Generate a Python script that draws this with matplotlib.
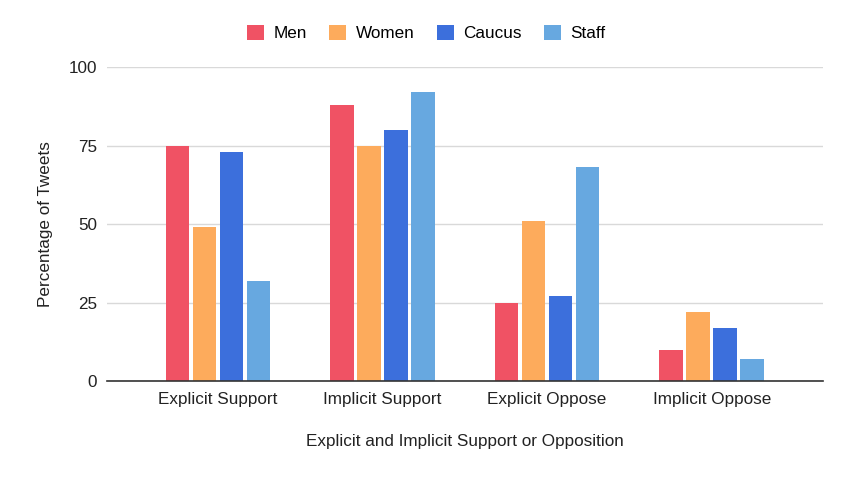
import matplotlib
matplotlib.use('Agg')
import matplotlib.pyplot as plt
import numpy as np

plt.rcParams['font.family'] = ['Liberation Sans', 'DejaVu Sans']

categories = ['Explicit Support', 'Implicit Support', 'Explicit Oppose', 'Implicit Oppose']
series_names = ['Men', 'Women', 'Caucus', 'Staff']
men = [75, 88, 25, 10]
women = [49, 75, 51, 22]
caucus = [73, 80, 27, 17]
staff = [32, 92, 68, 7]
colors = ['#f05264', '#fdab5c', '#3c6fdc', '#67a8e0']

fig = plt.figure(figsize=(8.49, 4.82), dpi=100)
ax = fig.add_axes([0.126, 0.2095, 0.843, 0.6515])

x = np.arange(len(categories))
step = 0.164
width = 0.143
for i, (vals, name) in enumerate(zip([men, women, caucus, staff], series_names)):
    ax.bar(x + (i - 1.5) * step, vals, width, color=colors[i], label=name, zorder=3)

ax.set_xlim(-0.674, 3.674)
ax.set_ylim(0, 100)
ax.set_yticks([0, 25, 50, 75, 100])
ax.grid(axis='y', color='#d9d9d9', linewidth=1, zorder=0)
ax.set_xticks(x)
ax.set_xticklabels(categories)
ax.tick_params(axis='both', length=0, labelsize=12.3, colors='#222222')
ax.tick_params(axis='x', pad=8)
ax.tick_params(axis='y', pad=7)
for s in ['top', 'right', 'left']:
    ax.spines[s].set_visible(False)
ax.spines['bottom'].set_color('#333333')
ax.spines['bottom'].set_linewidth(1.2)
ax.spines['bottom'].set_zorder(4)

ax.set_ylabel('Percentage of Tweets', fontsize=12.3, color='#222222', labelpad=11)
ax.set_xlabel('Explicit and Implicit Support or Opposition', fontsize=12.3, color='#222222', labelpad=19)

fig.legend(loc='center', bbox_to_anchor=(0.502, 0.932), ncol=4, frameon=False,
           fontsize=12.3, handlelength=1.0, handleheight=1.0, handletextpad=0.55,
           columnspacing=1.3)

fig.savefig('out.png', dpi=100, facecolor='white')
